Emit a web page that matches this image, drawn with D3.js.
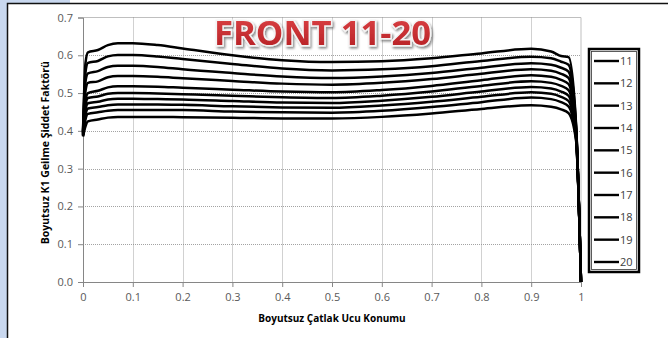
<!DOCTYPE html>
<html>
<head>
<meta charset="utf-8">
<script src="https://cdn.jsdelivr.net/npm/d3@7"></script>
<style>
  html, body { margin: 0; padding: 0; background: #fff; }
  svg { display: block; }
</style>
</head>
<body>
<svg id="chart" width="668" height="338"></svg>
<script>
// Crack-front positions (dimensionless) at which K1 was evaluated
const positions = [0, 0.005, 0.01, 0.03, 0.05, 0.07, 0.1, 0.15, 0.2, 0.3, 0.4, 0.5, 0.6, 0.7, 0.8, 0.9, 0.94, 0.96, 0.975, 0.99, 1.0];

// Series names (fronts 11..20)
const fronts = ["11", "12", "13", "14", "15", "16", "17", "18", "19", "20"];

// Dimensionless K1 values, one array per front
const front11 = [0.400, 0.580, 0.608, 0.614, 0.627, 0.632, 0.632, 0.627, 0.618, 0.600, 0.587, 0.582, 0.584, 0.592, 0.605, 0.617, 0.610, 0.598, 0.595, 0.420, 0.0];
const front12 = [0.398, 0.555, 0.580, 0.585, 0.597, 0.601, 0.601, 0.597, 0.590, 0.577, 0.565, 0.560, 0.563, 0.571, 0.585, 0.596, 0.592, 0.583, 0.575, 0.415, 0.0];
const front13 = [0.396, 0.530, 0.552, 0.558, 0.569, 0.572, 0.572, 0.569, 0.563, 0.553, 0.544, 0.540, 0.544, 0.553, 0.567, 0.579, 0.575, 0.567, 0.557, 0.410, 0.0];
const front14 = [0.394, 0.505, 0.527, 0.531, 0.542, 0.545, 0.545, 0.543, 0.539, 0.532, 0.525, 0.522, 0.527, 0.537, 0.551, 0.563, 0.559, 0.551, 0.540, 0.405, 0.0];
const front15 = [0.392, 0.480, 0.500, 0.506, 0.515, 0.518, 0.518, 0.517, 0.514, 0.509, 0.504, 0.502, 0.508, 0.519, 0.534, 0.547, 0.543, 0.535, 0.524, 0.400, 0.0];
const front16 = [0.390, 0.468, 0.487, 0.491, 0.498, 0.500, 0.500, 0.499, 0.497, 0.493, 0.489, 0.487, 0.493, 0.504, 0.519, 0.531, 0.527, 0.519, 0.508, 0.395, 0.0];
const front17 = [0.389, 0.455, 0.473, 0.477, 0.483, 0.485, 0.485, 0.484, 0.483, 0.479, 0.475, 0.474, 0.480, 0.490, 0.504, 0.516, 0.512, 0.504, 0.493, 0.390, 0.0];
const front18 = [0.388, 0.442, 0.459, 0.463, 0.468, 0.470, 0.470, 0.470, 0.469, 0.465, 0.462, 0.461, 0.467, 0.477, 0.490, 0.502, 0.498, 0.490, 0.479, 0.385, 0.0];
const front19 = [0.386, 0.430, 0.445, 0.449, 0.453, 0.455, 0.455, 0.455, 0.455, 0.451, 0.449, 0.448, 0.453, 0.463, 0.476, 0.488, 0.484, 0.476, 0.465, 0.380, 0.0];
const front20 = [0.385, 0.412, 0.425, 0.430, 0.435, 0.437, 0.437, 0.437, 0.436, 0.435, 0.433, 0.433, 0.437, 0.446, 0.458, 0.468, 0.464, 0.457, 0.447, 0.375, 0.0];

const seriesValues = [front11, front12, front13, front14, front15, front16, front17, front18, front19, front20];

// Axis ticks
const xTicks = [0, 0.1, 0.2, 0.3, 0.4, 0.5, 0.6, 0.7, 0.8, 0.9, 1];
const yTicks = [0, 0.1, 0.2, 0.3, 0.4, 0.5, 0.6, 0.7];

const chartTitle = "FRONT 11-20";
const xTitle = "Boyutsuz Çatlak Ucu Konumu";
const yTitle = "Boyutsuz K1 Geilme Şiddet Faktörü";

const svg = d3.select("#chart");
const W = 668, H = 338;
const plot = { left: 83, right: 581, top: 17.5, bottom: 282 };
const font = "'Open Sans', 'Noto Sans', sans-serif";

// Frame: light blue strip and black border of the sheet
svg.append("rect").attr("x", 0).attr("y", 0).attr("width", W).attr("height", H).attr("fill", "#fff");
svg.append("rect").attr("x", 0).attr("y", 0).attr("width", 7).attr("height", H).attr("fill", "#c9d8ef");
svg.append("rect").attr("x", 0).attr("y", 0).attr("width", 70).attr("height", 3).attr("fill", "#c9d8ef");
svg.append("path").attr("d", `M7.5,${H} V3.5 H${W}`).attr("fill", "none").attr("stroke", "#111").attr("stroke-width", 1.5);

const x = d3.scaleLinear().domain([0, 1]).range([plot.left, plot.right]);
const y = d3.scaleLinear().domain([0, 0.7]).range([plot.bottom, plot.top]);

// Plot area outline (top/right)
svg.append("path")
  .attr("d", `M${plot.left},${plot.top} H${plot.right} V${plot.bottom}`)
  .attr("fill", "none").attr("stroke", "#bfbfbf").attr("stroke-width", 1);

// Gridlines
const grid = svg.append("g").attr("stroke", "#8c8c8c").attr("stroke-width", 0.8).attr("stroke-dasharray", "1,1");
yTicks.filter(d => d > 0 && d < 0.7).forEach(d => {
  grid.append("line").attr("x1", plot.left).attr("x2", plot.right)
    .attr("y1", Math.round(y(d)) + 0.5).attr("y2", Math.round(y(d)) + 0.5);
});
xTicks.filter(d => d > 0 && d < 1).forEach(d => {
  grid.append("line").attr("y1", plot.top).attr("y2", plot.bottom)
    .attr("x1", Math.round(x(d)) + 0.5).attr("x2", Math.round(x(d)) + 0.5);
});

// Axes
const yAxis = svg.append("g").attr("transform", `translate(${plot.left},0)`)
  .call(d3.axisLeft(y).tickValues(yTicks).tickFormat(d3.format(".1f")).tickSizeOuter(0).tickSize(5).tickPadding(5));
const xAxis = svg.append("g").attr("transform", `translate(0,${plot.bottom})`)
  .call(d3.axisBottom(x).tickValues(xTicks).tickFormat(d3.format("")).tickSizeOuter(0).tickSize(5).tickPadding(6));
[xAxis, yAxis].forEach(a => {
  a.select(".domain").attr("stroke", "#868686").attr("stroke-width", 1);
  a.selectAll(".tick line").attr("stroke", "#868686");
  a.selectAll(".tick text").attr("fill", "#595959").attr("font-family", font).attr("font-size", 11);
});

// Curves
const line = d3.line()
  .x((d, i) => x(positions[i]))
  .y(d => y(d))
  .curve(d3.curveMonotoneX);

svg.append("g").selectAll("path")
  .data(seriesValues)
  .join("path")
  .attr("d", d => line(d))
  .attr("fill", "none")
  .attr("stroke", "#000")
  .attr("stroke-width", 2.5)
  .attr("stroke-linejoin", "round");

// Axis titles
svg.append("text")
  .attr("x", (plot.left + plot.right) / 2).attr("y", 322)
  .attr("text-anchor", "middle")
  .attr("font-family", font).attr("font-weight", "bold").attr("font-size", 10)
  .attr("fill", "#000").text(xTitle);

svg.append("text")
  .attr("transform", `translate(49,${(plot.top + plot.bottom) / 2 + 3}) rotate(-90)`)
  .attr("text-anchor", "middle")
  .attr("font-family", font).attr("font-weight", "bold").attr("font-size", 10.5)
  .attr("fill", "#000").text(yTitle);

// Legend
const legend = svg.append("g");
legend.append("rect").attr("x", 589).attr("y", 49).attr("width", 50).attr("height", 223)
  .attr("fill", "#fff").attr("stroke", "#000").attr("stroke-width", 2.5);
legend.append("rect").attr("x", 591.5).attr("y", 51.5).attr("width", 45).attr("height", 218)
  .attr("fill", "none").attr("stroke", "#333").attr("stroke-width", 0.8);
const ly = d3.scalePoint().domain(fronts).range([61, 262]);
fronts.forEach(f => {
  legend.append("line").attr("x1", 594).attr("x2", 619)
    .attr("y1", ly(f)).attr("y2", ly(f))
    .attr("stroke", "#000").attr("stroke-width", 2.4);
  legend.append("text").attr("x", 620).attr("y", ly(f) + 4)
    .attr("font-family", font).attr("font-size", 11).attr("fill", "#404040").text(f);
});

// Chart title with red gradient and soft shadow
const defs = svg.append("defs");
const grad = defs.append("linearGradient").attr("id", "titleFill").attr("x1", 0).attr("y1", 0).attr("x2", 0).attr("y2", 1);
grad.append("stop").attr("offset", "0%").attr("stop-color", "#e2474a");
grad.append("stop").attr("offset", "100%").attr("stop-color", "#b01c20");
const shadow = defs.append("filter").attr("id", "titleShadow").attr("x", "-10%").attr("y", "-20%").attr("width", "130%").attr("height", "150%");
shadow.append("feDropShadow").attr("dx", 1.5).attr("dy", 2).attr("stdDeviation", 1.2).attr("flood-color", "#000").attr("flood-opacity", 0.45);

svg.append("text")
  .attr("x", 322.5).attr("y", 45)
  .attr("text-anchor", "middle")
  .attr("font-family", font).attr("font-weight", "bold").attr("font-size", 34)
  .attr("textLength", 217).attr("lengthAdjust", "spacingAndGlyphs")
  .attr("fill", "url(#titleFill)")
  .attr("stroke", "#f4f4f4").attr("stroke-width", 3).attr("paint-order", "stroke")
  .attr("filter", "url(#titleShadow)")
  .text(chartTitle);
</script>
</body>
</html>
